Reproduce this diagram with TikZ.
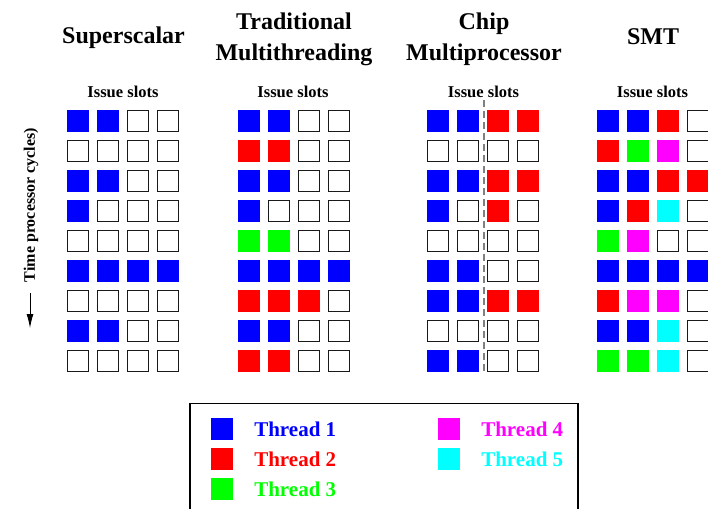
\documentclass[tikz,border=0pt]{standalone}
\usepackage{fontspec}
\setmainfont{Liberation Serif}
\usetikzlibrary{positioning,arrows.meta}

\definecolor{c0}{rgb}{1,1,1}
\definecolor{c1}{rgb}{0,0,1}
\definecolor{c2}{rgb}{1,0,0}
\definecolor{c3}{rgb}{0,1,0}
\definecolor{c4}{rgb}{1,0,1}
\definecolor{c5}{rgb}{0,1,1}
\colorlet{d0}{black!90}
\colorlet{d1}{c1}
\colorlet{d2}{c2}
\colorlet{d3}{c3}
\colorlet{d4}{c4}
\colorlet{d5}{c5}

\begin{document}
\begin{tikzpicture}
  [x=1pt,y=-1pt,
   slot/.style={rectangle,minimum size=21pt,inner sep=0pt,line width=1.2pt},
   title/.style={font=\fontsize{24}{31}\selectfont\bfseries,align=center},
   slots/.style={font=\fontsize{16.5}{20}\selectfont\bfseries},
   keytext/.style={font=\fontsize{21}{25}\selectfont\bfseries,inner sep=0pt},
   sep/.style={gray,line width=2pt,dash pattern=on 7pt off 4pt}]
  \useasboundingbox (0,0) rectangle (708,508);
  \clip (0,0) rectangle (708,508);

  % titles
  \node[title,anchor=base] (ss) at (123.5,44) {Superscalar};
  \node[title,anchor=north] (tm) at (294,9.5) {Traditional\\Multithreading};
  \node[title,anchor=north] (cmp) at (484,9.5) {Chip\\Multiprocessor};
  \node[title,anchor=base] (smt) at (653,45) {SMT};

  \foreach \g/\x in {ss/123, tm/293, cmp/483.5, smt/652.5}
    \node[slots,anchor=base] (\g-issue) at (\x,97) {Issue slots};

  % superscalar
  \foreach \row [count=\r] in {{1,1,0,0},{0,0,0,0},{1,1,0,0},{1,0,0,0},{0,0,0,0},
                               {1,1,1,1},{0,0,0,0},{1,1,0,0},{0,0,0,0}}
    \foreach \c [count=\k] in \row
      \node[slot,fill=c\c,draw=d\c] (ss-\r-\k) at (48+30*\k,91+30*\r) {};

  % traditional multithreading
  \foreach \row [count=\r] in {{1,1,0,0},{2,2,0,0},{1,1,0,0},{1,0,0,0},{3,3,0,0},
                               {1,1,1,1},{2,2,2,0},{1,1,0,0},{2,2,0,0}}
    \foreach \c [count=\k] in \row
      \node[slot,fill=c\c,draw=d\c] (tm-\r-\k) at (219+30*\k,91+30*\r) {};

  % chip multiprocessor
  \foreach \row [count=\r] in {{1,1,2,2},{0,0,0,0},{1,1,2,2},{1,0,2,0},{0,0,0,0},
                               {1,1,0,0},{1,1,2,2},{0,0,0,0},{1,1,0,0}}
    \foreach \c [count=\k] in \row
      \node[slot,fill=c\c,draw=d\c] (cmp-\r-\k) at (408+30*\k,91+30*\r) {};

  \coordinate (cut-top) at (483.5,100);
  \coordinate (cut-bot) at (483.5,373);
  \draw[sep] (cut-top) -- (cut-bot);

  % smt
  \foreach \row [count=\r] in {{1,1,2,0},{2,3,4,0},{1,1,2,2},{1,2,5,0},{3,4,0,0},
                               {1,1,1,1},{2,4,4,0},{1,1,5,0},{3,3,5,0}}
    \foreach \c [count=\k] in \row
      \node[slot,fill=c\c,draw=d\c] (smt-\r-\k) at (578+30*\k,91+30*\r) {};

  % time axis
  \node[font=\fontsize{16}{19}\selectfont\bfseries,rotate=90] (time) at (31,205) {Time processor cycles)};
  \coordinate (t0) at (30,293);
  \coordinate (t1) at (30,328);
  \draw[line width=1pt,-{Latex[length=14pt,width=7pt]}] (t0) -- (t1);

  % legend
  \draw[line width=1.2pt] (190,403.5) rectangle (578,540);
  \foreach \t/\x/\y in {1/222/429, 2/222/459, 3/222/489, 4/449/429, 5/449/459}
  {
    \node[slot,fill=c\t,draw=d\t] (key\t) at (\x,\y) {};
    \node[keytext,text=c\t,right=21pt of key\t] (name\t) {Thread \t};
  }

\end{tikzpicture}
\end{document}
